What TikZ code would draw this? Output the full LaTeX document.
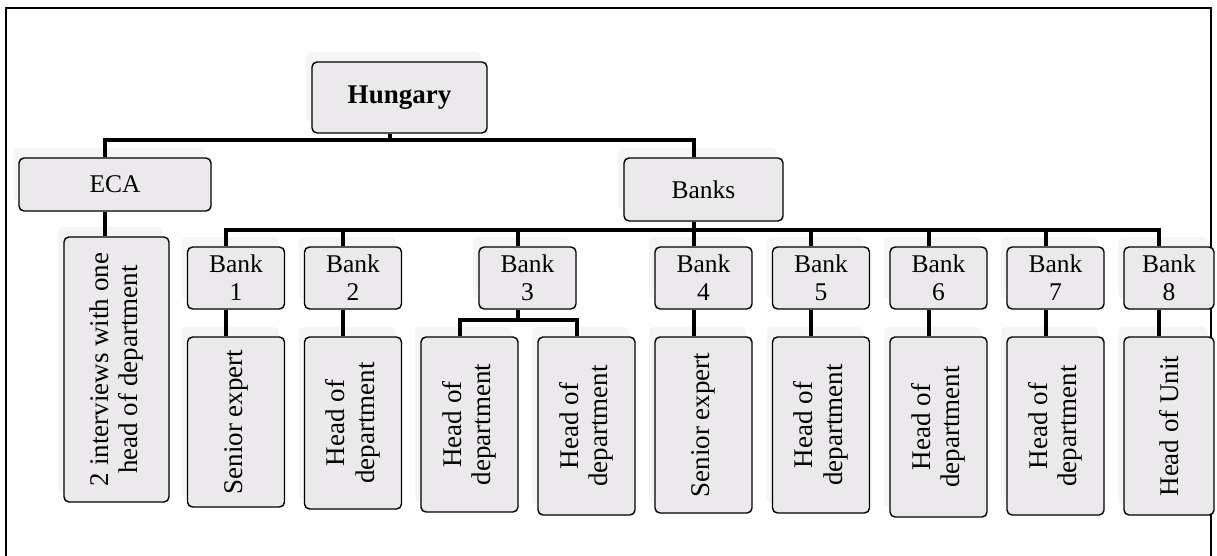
\documentclass[tikz,border=0pt]{standalone}
\usepackage{fontspec}
\setmainfont{Liberation Serif}
\usetikzlibrary{shadows}
\definecolor{boxfill}{RGB}{236,233,236}
\begin{document}
\begin{tikzpicture}[x=1pt,y=-1pt,
  box/.style={draw=black, line width=1.4pt, rounded corners=5pt, fill=boxfill,
    inner sep=0pt, align=center, font=\fontsize{25.5}{28}\selectfont,
    drop shadow={shadow xshift=-6pt, shadow yshift=10pt, fill=black!4, opacity=1}},
  vtext/.style={rotate=90, align=center, inner sep=0pt, font=\fontsize{27}{29.5}\selectfont},
  conn/.style={line width=4pt, line join=miter}]
\useasboundingbox (0,0) rectangle (1217,556);
% outer frame
\draw[line width=1.2pt] (6,560) -- (6,8) -- (1211,8) -- (1211,560);

% top level
\node[box, minimum width=175pt, minimum height=71pt, font=\fontsize{27}{30}\selectfont\bfseries] (hun) at (399.5,97.5) {Hungary};
\node[box, minimum width=192pt, minimum height=53pt] (eca) at (115,184.5) {ECA};
\node[box, minimum width=159pt, minimum height=63pt] (banks) at (703.5,189.5) {Banks};
\node[box, minimum width=105pt, minimum height=265pt] (int) at (116.5,369.5) {};
\node[vtext] (intt) at (int) {2 interviews with one\\head of department};

% banks
\node[box, minimum width=97pt, minimum height=62pt] (b1) at (236,278) {Bank\\1};
\node[box, minimum width=97pt, minimum height=62pt] (b2) at (353,278) {Bank\\2};
\node[box, minimum width=97pt, minimum height=62pt] (b3) at (527.5,278) {Bank\\3};
\node[box, minimum width=97pt, minimum height=62pt] (b4) at (703.5,278) {Bank\\4};
\node[box, minimum width=97pt, minimum height=62pt] (b5) at (821,278) {Bank\\5};
\node[box, minimum width=97pt, minimum height=62pt] (b6) at (938.5,278) {Bank\\6};
\node[box, minimum width=97pt, minimum height=62pt] (b7) at (1055.5,278) {Bank\\7};
\node[box, minimum width=90pt, minimum height=62pt] (b8) at (1169,278) {Bank\\8};

% children
\node[box, minimum width=97pt, minimum height=170pt] (s1) at (236,422) {};
\node[vtext] (s1t) at (s1) {Senior expert};
\node[box, minimum width=97pt, minimum height=172pt] (s2) at (353,423) {};
\node[vtext] (s2t) at (s2) {Head of\\department};
\node[box, minimum width=97pt, minimum height=175pt] (s3a) at (469.5,424.5) {};
\node[vtext] (s3at) at (s3a) {Head of\\department};
\node[box, minimum width=97pt, minimum height=178pt] (s3b) at (586.5,426) {};
\node[vtext] (s3bt) at (s3b) {Head of\\department};
\node[box, minimum width=97pt, minimum height=176pt] (s4) at (703.5,425) {};
\node[vtext] (s4t) at (s4) {Senior expert};
\node[box, minimum width=97pt, minimum height=176pt] (s5) at (821,425) {};
\node[vtext] (s5t) at (s5) {Head of\\department};
\node[box, minimum width=97pt, minimum height=180pt] (s6) at (938.5,427) {};
\node[vtext] (s6t) at (s6) {Head of\\department};
\node[box, minimum width=97pt, minimum height=178pt] (s7) at (1055.5,426) {};
\node[vtext] (s7t) at (s7) {Head of\\department};
\node[box, minimum width=90pt, minimum height=178pt] (s8) at (1169,426) {};
\node[vtext] (s8t) at (s8) {Head of Unit};

% helper coordinates
\coordinate (j1) at (0,140);
\coordinate (j2) at (0,230);
\coordinate (j3) at (0,320);
\coordinate (hunB) at ([xshift=-10pt]hun.south);
\coordinate (ecaT) at ([xshift=-10pt]eca.north);
\coordinate (ecaB) at ([xshift=-10pt]eca.south);
\coordinate (banksT) at ([xshift=-10pt]banks.north);
\coordinate (banksB) at ([xshift=-10pt]banks.south);
\coordinate (b1T) at ([xshift=-10pt]b1.north);
\coordinate (b8T) at ([xshift=-10pt]b8.north);
\coordinate (b3B) at ([xshift=-10pt]b3.south);
\coordinate (s3aT) at ([xshift=-10pt]s3a.north);
\coordinate (s3bT) at ([xshift=-10pt]s3b.north);

% connectors
\draw[conn] (hunB) -- (hunB |- j1);
\draw[conn] (ecaT) -- (ecaT |- j1) -- (banksT |- j1) -- (banksT);
\draw[conn] (ecaB) -- (ecaB |- int.north);
\draw[conn] (b1T) -- (b1T |- j2) -- (b8T |- j2) -- (b8T);
\draw[conn] (banksB) -- ([xshift=-10pt]b4.north);
\draw[conn] ([xshift=-10pt]b2.north) -- ([xshift=-10pt]b2.north |- j2);
\draw[conn] ([xshift=-10pt]b3.north) -- ([xshift=-10pt]b3.north |- j2);
\draw[conn] ([xshift=-10pt]b5.north) -- ([xshift=-10pt]b5.north |- j2);
\draw[conn] ([xshift=-10pt]b6.north) -- ([xshift=-10pt]b6.north |- j2);
\draw[conn] ([xshift=-10pt]b7.north) -- ([xshift=-10pt]b7.north |- j2);
\draw[conn] ([xshift=-10pt]b1.south) -- ([xshift=-10pt]b1.south |- s1.north);
\draw[conn] ([xshift=-10pt]b2.south) -- ([xshift=-10pt]b2.south |- s2.north);
\draw[conn] (b3B) -- (b3B |- j3);
\draw[conn] (s3aT) -- (s3aT |- j3) -- (s3bT |- j3) -- (s3bT);
\draw[conn] ([xshift=-10pt]b4.south) -- ([xshift=-10pt]b4.south |- s4.north);
\draw[conn] ([xshift=-10pt]b5.south) -- ([xshift=-10pt]b5.south |- s5.north);
\draw[conn] ([xshift=-10pt]b6.south) -- ([xshift=-10pt]b6.south |- s6.north);
\draw[conn] ([xshift=-10pt]b7.south) -- ([xshift=-10pt]b7.south |- s7.north);
\draw[conn] ([xshift=-10pt]b8.south) -- ([xshift=-10pt]b8.south |- s8.north);
\end{tikzpicture}
\end{document}
